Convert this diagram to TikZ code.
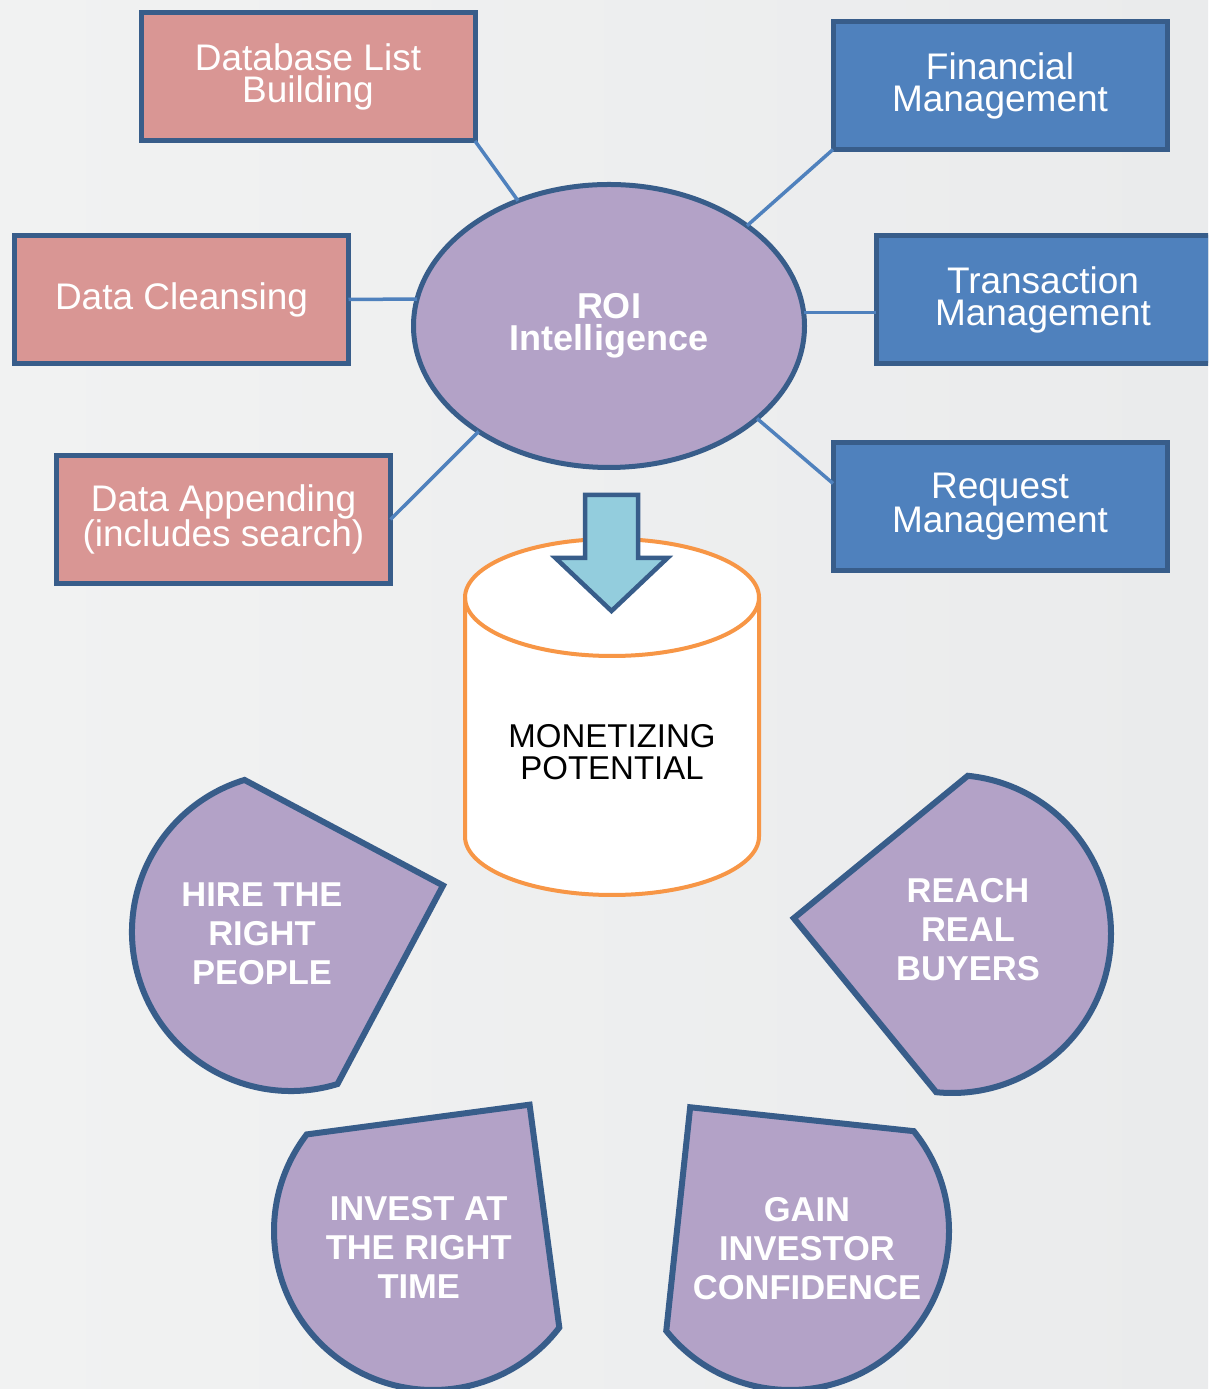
\documentclass[tikz,border=0pt]{standalone}
\usepackage{fontspec}
\setmainfont{Liberation Sans}
\usetikzlibrary{calc,shapes.geometric}
\definecolor{bgL}{RGB}{241,242,242}
\definecolor{bgR}{RGB}{234,235,236}
\definecolor{rimblue}{HTML}{385D8A}
\definecolor{pinkfill}{HTML}{D99694}
\definecolor{bluefill}{HTML}{4F81BD}
\definecolor{lilac}{HTML}{B3A2C7}
\definecolor{skyfill}{HTML}{93CDDD}
\definecolor{tankrim}{HTML}{F79646}
\definecolor{linkblue}{HTML}{4F81BD}

\begin{document}
\begin{tikzpicture}[x=1pt,y=1pt,
  card/.style={draw=rimblue, line width=5pt, minimum width=334pt, minimum height=128pt,
    inner sep=0pt, outer sep=0pt, text=white, align=center,
    font=\fontsize{37pt}{32pt}\selectfont},
  pinkcard/.style={card, fill=pinkfill},
  bluecard/.style={card, fill=bluefill},
  link/.style={draw=linkblue, line width=3.5pt},
  wedge/.style={draw=rimblue, fill=lilac, line width=6pt, line join=miter},
  wedgetext/.style={text=white, align=center, inner sep=0pt,
    font=\bfseries\fontsize{34.5pt}{39pt}\selectfont},
  tank/.style={draw=tankrim, line width=4pt}
]
\useasboundingbox (0,0) rectangle (1208,1389);
\clip (0,0) rectangle (1208,1389);
\shade[left color=bgL, right color=bgR] (0,0) rectangle (1208,1389);

% hub
\node[ellipse, draw=rimblue, fill=lilac, line width=5pt, minimum width=391pt,
  minimum height=283pt, inner sep=0pt, outer sep=0pt, text=white, align=center,
  font=\bfseries\fontsize{36pt}{31.5pt}\selectfont] (roi) at (609,1063) {ROI\\Intelligence};

% data services on the left
\node[pinkcard] (dbl) at (308,1312) {Database List\\Building};
\node[pinkcard] (dcl) at (181.5,1089.5) {Data Cleansing};
\node[pinkcard] (dap) at (223.5,869.5) {Data Appending\\(includes search)};

% management services on the right
\node[bluecard] (fin) at (1000,1303.5) {Financial\\Management};
\node[bluecard] (trn) at (1043,1089.5) {Transaction\\Management};
\node[bluecard] (req) at (1000,882.5) {Request\\Management};

% spokes
\draw[link] (dbl.south east) -- (roi.126);
\draw[link] (dcl.east) -- (roi.172);
\draw[link] (dap.east) -- (roi.219);
\draw[link] (fin.south west) -- (roi.36.5);
\draw[link] (roi.4.6) -- (roi.4.6 -| trn.west);
\draw[link] (roi.328) -- ($(req.north west)!0.32!(req.south west)$);

% storage cylinder
\fill[white] (465,791.5) -- (465,552.5)
  arc[start angle=180, end angle=360, x radius=147pt, y radius=58.5pt]
  -- (759,791.5)
  arc[start angle=0, end angle=180, x radius=147pt, y radius=58.5pt] -- cycle;
\draw[tank] (465,791.5) -- (465,552.5)
  arc[start angle=180, end angle=360, x radius=147pt, y radius=58.5pt]
  -- (759,791.5);
\draw[tank] (612,791.5) ellipse[x radius=147pt, y radius=58.5pt];
\node[align=center, inner sep=0pt, text=black,
  font=\fontsize{33pt}{32pt}\selectfont] (mp) at (612,636.5) {MONETIZING\\POTENTIAL};

% block arrow into the cylinder
\draw[draw=rimblue, fill=skyfill, line width=4.5pt, line join=miter]
  (585,894) -- (638,894) -- (638,831) -- (667.5,831) -- (611.5,778)
  -- (555.5,831) -- (585,831) -- cycle;

% outcome wedges
\draw[wedge, shift={(291,457)}] (107:159pt)
  arc[start angle=107, end angle=287, radius=159pt] -- (17:159pt) -- cycle;
\draw[wedge, shift={(952,455)}] (264.3:159pt)
  arc[start angle=264.3, end angle=444.3, radius=159pt] -- (174.3:159pt) -- cycle;
\draw[wedge, shift={(433,158)}] (142.6:159pt)
  arc[start angle=142.6, end angle=322.6, radius=159pt] -- (52.6:159pt) -- cycle;
\draw[wedge, shift={(790,158)}] (218.9:159pt)
  arc[start angle=218.9, end angle=398.9, radius=159pt] -- (128.9:159pt) -- cycle;

\node[wedgetext] (hire) at (262,455) {HIRE THE\\RIGHT\\PEOPLE};
\node[wedgetext] (reach) at (968,459.3) {REACH\\REAL\\BUYERS};
\node[wedgetext] (invest) at (418.7,141.8) {INVEST AT\\THE RIGHT\\TIME};
\node[wedgetext] (gain) at (807,140.3) {GAIN\\INVESTOR\\CONFIDENCE};
\end{tikzpicture}
\end{document}
